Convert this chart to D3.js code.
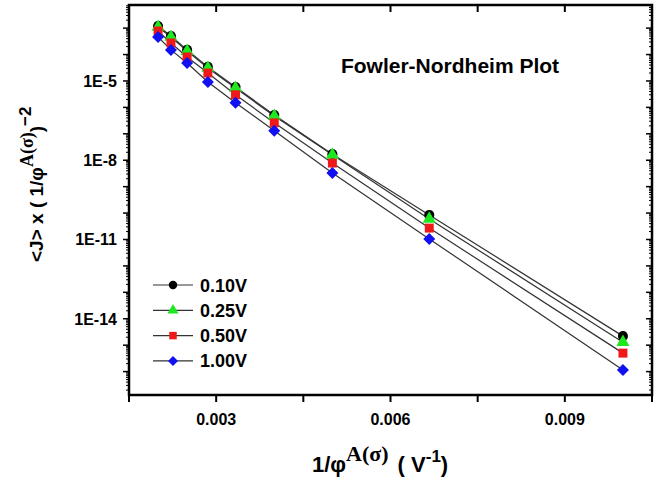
<!DOCTYPE html>
<html>
<head>
<meta charset="utf-8">
<script src="https://cdn.jsdelivr.net/npm/d3@7"></script>
<style>
  body { margin: 0; background: #fff; }
  svg text { font-family: "Liberation Sans", Arial, sans-serif; font-weight: bold; }
</style>
</head>
<body>
<div id="chart"></div>
<script>
// x values: 1/phi
var xVals = [0.002, 0.002222, 0.0025, 0.002857, 0.003333, 0.004, 0.005, 0.006667, 0.01];

// <J> x (1/phi)^-2 for each bias
var j010 = [1.2e-3, 5.0e-4, 1.5e-4, 3.4e-5, 5.9e-6, 5.1e-7, 1.7e-8, 8.5e-11, 2.2e-15];
var j025 = [1.1e-3, 4.6e-4, 1.35e-4, 3.1e-5, 5.4e-6, 4.7e-7, 1.6e-8, 6.0e-11, 1.3e-15];
var j050 = [7.8e-4, 2.75e-4, 8.1e-5, 2.0e-5, 3.0e-6, 2.6e-7, 7.8e-9, 2.7e-11, 5.0e-16];
var j100 = [4.6e-4, 1.5e-4, 4.8e-5, 9.1e-6, 1.5e-6, 1.3e-7, 3.3e-9, 1.05e-11, 1.15e-16];

var seriesNames = ["0.10V", "0.25V", "0.50V", "1.00V"];
var xTickLabels = [0.003, 0.006, 0.009];
var yTickLabels = [1e-5, 1e-8, 1e-11, 1e-14];

var series = [
  {name: seriesNames[0], vals: j010, color: "#000000", sym: d3.symbolCircle, size: 80, rot: 0},
  {name: seriesNames[1], vals: j025, color: "#1ee81e", sym: d3.symbolTriangle, size: 75, rot: 0},
  {name: seriesNames[2], vals: j050, color: "#f01818", sym: d3.symbolSquare, size: 80, rot: 0},
  {name: seriesNames[3], vals: j100, color: "#1010f0", sym: d3.symbolSquare, size: 72, rot: 45}
];

var W = 665, H = 483;
var pl = 129, pr = 652, pt = 5, pb = 395;

var svg = d3.select("#chart").append("svg")
    .attr("width", W)
    .attr("height", H);

var x = d3.scaleLinear().domain([0.0015, 0.0105]).range([pl, pr]);
var y = d3.scaleLog().domain([1.3e-17, 7.5e-3]).range([pb, pt]);

// x ticks every 0.0015
var xTicks = d3.range(0, 7).map(function(i) { return 0.0015 + i * 0.0015; });

// y ticks: decades + minors
var yMajor = [], yMinor = [];
for (var e = -17; e <= -2; e++) {
  var v = Math.pow(10, e);
  if (v >= 1.3e-17 && v <= 7.5e-3) yMajor.push(v);
  for (var k = 2; k <= 9; k++) {
    var m = k * v;
    if (m >= 1.3e-17 && m <= 7.5e-3) yMinor.push(m);
  }
}

var axes = svg.append("g").attr("stroke", "#000");

// bottom ticks (outward) and top ticks (inward)
axes.selectAll(".xb").data(xTicks).enter().append("line")
    .attr("x1", function(d) { return x(d); }).attr("x2", function(d) { return x(d); })
    .attr("y1", pb).attr("y2", pb + 7).attr("stroke-width", 2);
axes.selectAll(".xt").data(xTicks).enter().append("line")
    .attr("x1", function(d) { return x(d); }).attr("x2", function(d) { return x(d); })
    .attr("y1", pt).attr("y2", pt + 7).attr("stroke-width", 2);

// left ticks (outward), right ticks (inward)
axes.selectAll(".yl").data(yMajor).enter().append("line")
    .attr("x1", pl - 6).attr("x2", pl)
    .attr("y1", function(d) { return y(d); }).attr("y2", function(d) { return y(d); })
    .attr("stroke-width", 1.5);
axes.selectAll(".ylm").data(yMinor).enter().append("line")
    .attr("x1", pl - 3).attr("x2", pl)
    .attr("y1", function(d) { return y(d); }).attr("y2", function(d) { return y(d); })
    .attr("stroke-width", 1);
axes.selectAll(".yr").data(yMajor).enter().append("line")
    .attr("x1", pr - 6).attr("x2", pr)
    .attr("y1", function(d) { return y(d); }).attr("y2", function(d) { return y(d); })
    .attr("stroke-width", 1.5);
axes.selectAll(".yrm").data(yMinor).enter().append("line")
    .attr("x1", pr - 3).attr("x2", pr)
    .attr("y1", function(d) { return y(d); }).attr("y2", function(d) { return y(d); })
    .attr("stroke-width", 1);

// frame
svg.append("rect")
    .attr("x", pl).attr("y", pt)
    .attr("width", pr - pl).attr("height", pb - pt)
    .attr("fill", "none").attr("stroke", "#000").attr("stroke-width", 2.5);

// tick labels
svg.selectAll(".xl").data(xTickLabels).enter().append("text")
    .attr("x", function(d) { return x(d); })
    .attr("y", 425)
    .attr("text-anchor", "middle")
    .attr("font-size", 16)
    .text(function(d) { return d3.format(".3f")(d); });

svg.selectAll(".yll").data(yTickLabels).enter().append("text")
    .attr("x", pl - 12)
    .attr("y", function(d) { return y(d) + 6; })
    .attr("text-anchor", "end")
    .attr("font-size", 16)
    .text(function(d) { return "1E" + Math.round(Math.log10(d)); });

// lines
var line = d3.line()
    .x(function(d, i) { return x(xVals[i]); })
    .y(function(d) { return y(d); });

svg.append("g").selectAll("path").data(series).enter().append("path")
    .attr("d", function(s) { return line(s.vals); })
    .attr("fill", "none")
    .attr("stroke", "#333")
    .attr("stroke-width", 1.2);

// markers
series.forEach(function(s) {
  svg.append("g").selectAll("path").data(s.vals).enter().append("path")
      .attr("d", d3.symbol().type(s.sym).size(s.size))
      .attr("transform", function(d, i) {
        return "translate(" + x(xVals[i]) + "," + y(d) + ") rotate(" + s.rot + ")";
      })
      .attr("fill", s.color);
});

// title
svg.append("text")
    .attr("x", 450).attr("y", 73)
    .attr("text-anchor", "middle")
    .attr("font-size", 21)
    .text("Fowler-Nordheim Plot");

// legend
var leg = svg.append("g").attr("transform", "translate(153,285)");
series.forEach(function(s, i) {
  var g = leg.append("g").attr("transform", "translate(0," + (i * 25.3) + ")");
  g.append("line").attr("x1", 0).attr("x2", 40).attr("y1", 0).attr("y2", 0)
      .attr("stroke", "#333").attr("stroke-width", 1.2);
  g.append("path").attr("d", d3.symbol().type(s.sym).size(s.size * 0.7))
      .attr("transform", "translate(20,0) rotate(" + s.rot + ")").attr("fill", s.color);
  g.append("text").attr("x", 47).attr("y", 6.5).attr("font-size", 18).text(s.name);
});

// x axis title
var xt = svg.append("text").attr("x", 312).attr("y", 472).attr("font-size", 22);
xt.append("tspan").text("1/\u03c6");
xt.append("tspan").attr("dy", -11).attr("font-family", "Liberation Serif, Times New Roman, serif")
    .attr("font-size", 22).text("A(\u03c3)");
xt.append("tspan").attr("dy", 11).attr("dx", 9).text("( V");
xt.append("tspan").attr("dy", -10).attr("font-size", 17).text("-1");
xt.append("tspan").attr("dy", 10).text(")");

// y axis title
var yt = svg.append("text")
    .attr("transform", "translate(43,262) rotate(-90)")
    .attr("font-size", 19);
yt.append("tspan").text("<J> x ( 1/\u03c6");
yt.append("tspan").attr("dy", -10).attr("font-family", "Liberation Serif, Times New Roman, serif")
    .attr("font-size", 18).text("A(\u03c3)");
yt.append("tspan").attr("dy", 10).text(")");
yt.append("tspan").attr("dy", -12).attr("font-size", 17).text("\u22122");
</script>
</body>
</html>
